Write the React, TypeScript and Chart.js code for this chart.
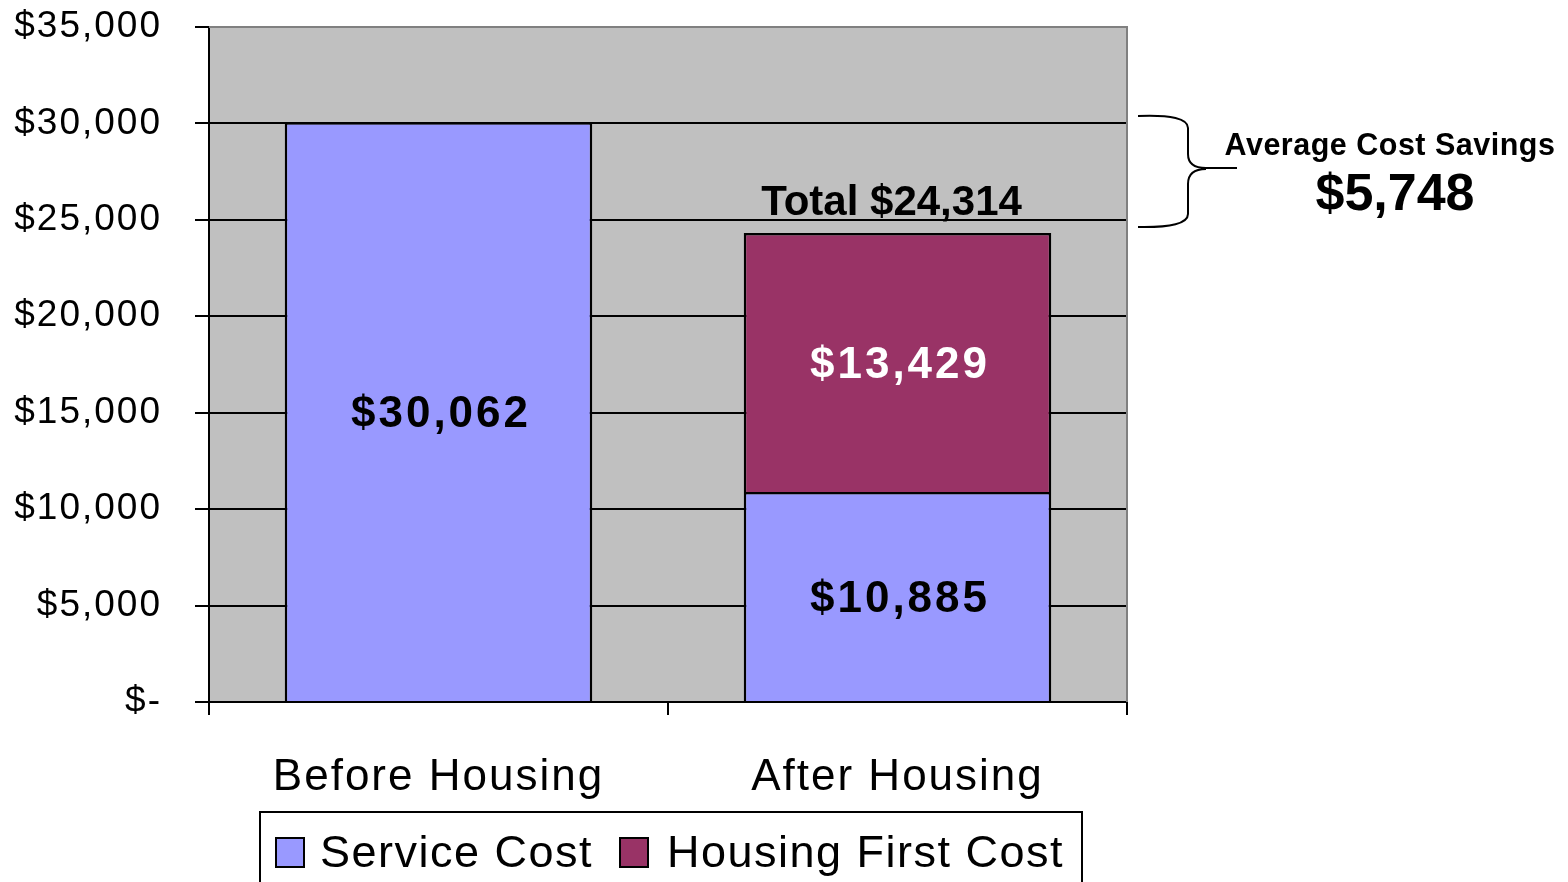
import React, { useEffect, useRef } from 'react';
import { Chart, registerables } from 'chart.js';

Chart.register(...registerables);

const FONT = "'Liberation Sans', Arial, Helvetica, sans-serif";

const categories = ['Before Housing', 'After Housing'];
const seriesNames = ['Service Cost', 'Housing First Cost'];
const serviceCost: (number | null)[] = [30062, 10885];
const housingFirstCost: (number | null)[] = [null, 13429];
const seriesColors = ['#9999FF', '#993366'];
const valueLabelColors = ['#000000', '#FFFFFF'];
const yMin = 0;
const yMax = 35000;
const yStep = 5000;
const totalAfter = 24314;
const savingsTitle = 'Average Cost Savings';
const savingsValue = 5748;

const fmt = (v: number) => '$' + v.toLocaleString('en-US');

const decorPlugin: any = {
  id: 'decor',
  beforeDraw(chart: any) {
    const { ctx, chartArea: a } = chart;
    ctx.save();
    ctx.fillStyle = '#FFFFFF';
    ctx.fillRect(0, 0, chart.width, chart.height);
    ctx.fillStyle = '#C0C0C0';
    ctx.fillRect(a.left, a.top, a.right - a.left, a.bottom - a.top);
    ctx.restore();
    ctx.letterSpacing = '2px';
  },
  beforeDatasetsDraw(chart: any) {
    const { ctx, chartArea: a } = chart;
    ctx.save();
    ctx.strokeStyle = '#808080';
    ctx.lineWidth = 2;
    ctx.beginPath();
    ctx.moveTo(a.left, a.top);
    ctx.lineTo(a.right, a.top);
    ctx.lineTo(a.right, a.bottom);
    ctx.stroke();
    ctx.restore();
  },
  afterDraw(chart: any) {
    const { ctx } = chart;
    // value labels inside bars
    chart.data.datasets.forEach((ds: any, i: number) => {
      const meta = chart.getDatasetMeta(i);
      meta.data.forEach((el: any, j: number) => {
        const v = ds.data[j];
        if (v == null) return;
        const p = el.getProps(['x', 'y', 'base'], true);
        ctx.save();
        ctx.letterSpacing = '3px';
        ctx.font = `bold 44px ${FONT}`;
        ctx.fillStyle = valueLabelColors[i];
        ctx.textAlign = 'center';
        ctx.textBaseline = 'middle';
        ctx.fillText(fmt(v), p.x + 2.5, (p.y + p.base) / 2 + 3);
        ctx.restore();
      });
    });
    // total label above stacked bar
    const top = chart.getDatasetMeta(1).data[1].getProps(['x', 'y'], true);
    ctx.save();
    ctx.letterSpacing = '0px';
    ctx.font = `bold 42px ${FONT}`;
    ctx.fillStyle = '#000';
    ctx.textAlign = 'center';
    ctx.textBaseline = 'alphabetic';
    ctx.fillText('Total ' + fmt(totalAfter), top.x - 6, top.y - 18);
    ctx.restore();

    // brace
    ctx.save();
    ctx.strokeStyle = '#000';
    ctx.lineWidth = 2;
    ctx.beginPath();
    ctx.moveTo(1138, 116);
    ctx.quadraticCurveTo(1188, 114, 1188, 128);
    ctx.lineTo(1188, 154);
    ctx.quadraticCurveTo(1188, 168, 1206, 168);
    ctx.lineTo(1237, 168);
    ctx.moveTo(1206, 169);
    ctx.quadraticCurveTo(1188, 169, 1188, 184);
    ctx.lineTo(1188, 214);
    ctx.quadraticCurveTo(1188, 228, 1138, 227);
    ctx.stroke();
    ctx.restore();

    // savings annotation
    ctx.save();
    ctx.fillStyle = '#000';
    ctx.textAlign = 'center';
    ctx.textBaseline = 'alphabetic';
    ctx.letterSpacing = '0.5px';
    ctx.font = `bold 30.5px ${FONT}`;
    ctx.fillText(savingsTitle, 1390, 155);
    ctx.letterSpacing = '0px';
    ctx.font = `bold 52px ${FONT}`;
    ctx.fillText(fmt(savingsValue), 1395, 210);
    ctx.restore();

    // legend
    ctx.save();
    ctx.strokeStyle = '#000';
    ctx.lineWidth = 2;
    ctx.strokeRect(260, 812, 822, 110);
    const items = [
      { box: 276, text: 320 },
      { box: 620, text: 667 },
    ];
    items.forEach((it, i) => {
      ctx.fillStyle = seriesColors[i];
      ctx.fillRect(it.box, 838, 28, 29);
      ctx.lineWidth = 2;
      ctx.strokeStyle = '#000';
      ctx.strokeRect(it.box, 838, 28, 29);
      ctx.fillStyle = '#000';
      ctx.letterSpacing = '1.5px';
      ctx.font = `45px ${FONT}`;
      ctx.textAlign = 'left';
      ctx.textBaseline = 'alphabetic';
      ctx.fillText(seriesNames[i], it.text, 867);
    });
    ctx.restore();
  },
};

export default function App() {
  const ref = useRef<HTMLCanvasElement | null>(null);
  useEffect(() => {
    if (!ref.current) return;
    const chart = new Chart(ref.current, {
      type: 'bar',
      data: {
        labels: categories,
        datasets: [
          {
            label: seriesNames[0],
            data: serviceCost,
            backgroundColor: seriesColors[0],
            borderColor: '#000',
            borderWidth: 2.5,
            categoryPercentage: 1,
            barPercentage: 0.67,
          },
          {
            label: seriesNames[1],
            data: housingFirstCost,
            backgroundColor: seriesColors[1],
            borderColor: '#000',
            borderWidth: 2.5,
            categoryPercentage: 1,
            barPercentage: 0.67,
          },
        ],
      },
      options: {
        responsive: false,
        animation: false,
        devicePixelRatio: 1,
        layout: { padding: { left: 0, top: 27, right: 441, bottom: 0 } },
        plugins: {
          legend: { display: false },
          tooltip: { enabled: false },
          title: { display: false },
        },
        scales: {
          x: {
            stacked: true,
            offset: true,
            grid: {
              offset: true,
              drawOnChartArea: false,
              drawTicks: true,
              tickLength: 13,
              color: '#000',
              lineWidth: 2,
            },
            border: { color: '#000', width: 2 },
            ticks: {
              color: '#000',
              font: { family: FONT, size: 44 },
              padding: 36,
              maxRotation: 0,
              autoSkip: false,
            },
            afterFit(scale: any) {
              scale.height = 180;
              scale.paddingLeft = 0;
              scale.paddingRight = 0;
            },
          },
          y: {
            stacked: true,
            min: yMin,
            max: yMax,
            grid: {
              color: (c: any) => (c.tick && c.tick.value === yMax ? '#808080' : '#000'),
              tickColor: '#000',
              lineWidth: 2,
              drawTicks: true,
              tickLength: 14,
            },
            border: { color: '#000', width: 2 },
            ticks: {
              stepSize: yStep,
              color: '#000',
              font: { family: FONT, size: 37 },
              padding: 33,
              callback: (v: any) => (Number(v) === 0 ? '$-' : fmt(Number(v))),
            },
            afterFit(scale: any) {
              scale.width = 209;
              scale.paddingTop = 0;
              scale.paddingBottom = 0;
            },
          },
        },
      },
      plugins: [decorPlugin],
    } as any);
    return () => chart.destroy();
  }, []);
  return (
    <div style={{ position: 'fixed', left: 0, top: 0, width: 1568, height: 882, background: '#fff' }}>
      <canvas ref={ref} width={1568} height={882} style={{ width: 1568, height: 882, display: 'block' }} />
    </div>
  );
}
